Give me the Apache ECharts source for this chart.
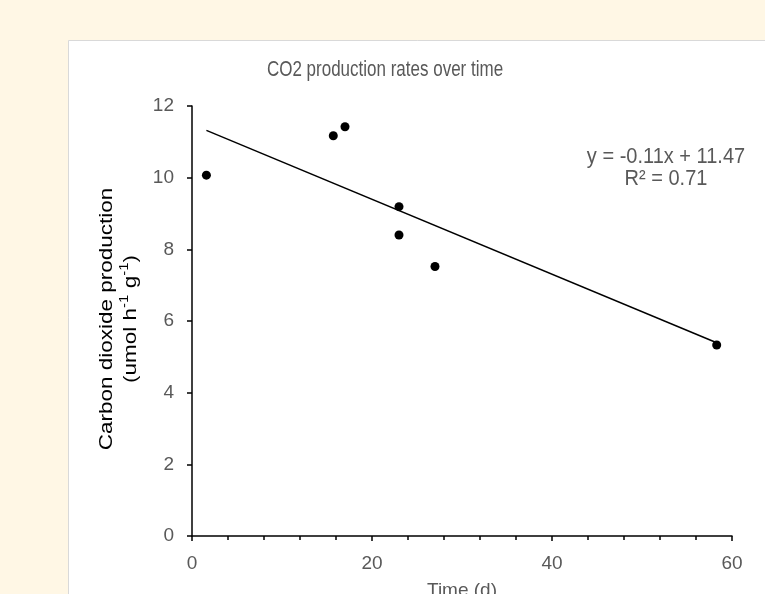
<!DOCTYPE html>
<html>
<head>
<meta charset="utf-8">
<script src="https://cdn.jsdelivr.net/npm/echarts@6/dist/echarts.min.js"></script>
<style>
  html, body { margin: 0; padding: 0; background: #FFF7E5; }
  #chart { width: 765px; height: 594px; }
</style>
</head>
<body>
<div id="chart"></div>
<script>
// Data
const timeDays = [1.6, 15.7, 17.0, 23.0, 23.0, 27.0, 58.3];
const co2Rate  = [10.07, 11.17, 11.42, 9.19, 8.40, 7.52, 5.33];
const xTicks = [0, 20, 40, 60];
const yTicks = [0, 2, 4, 6, 8, 10, 12];
const titleText = 'CO2 production rates over time';
const equationText = 'y = -0.11x + 11.47';
const r2Text = 'R² = 0.71';

// Least-squares trend line derived from the data
const n = timeDays.length;
const mx = timeDays.reduce((a, b) => a + b, 0) / n;
const my = co2Rate.reduce((a, b) => a + b, 0) / n;
let sxy = 0, sxx = 0;
for (let i = 0; i < n; i++) { sxy += (timeDays[i] - mx) * (co2Rate[i] - my); sxx += (timeDays[i] - mx) ** 2; }
const slope = sxy / sxx, intercept = my - slope * mx;
const xMin = Math.min(...timeDays), xMax = Math.max(...timeDays);
const trend = [[xMin, intercept + slope * xMin], [xMax, intercept + slope * xMax]];

const FONT = '"Liberation Sans", Arial, sans-serif';
const GREY = '#595959';

const chart = echarts.init(document.getElementById('chart'), null, { renderer: 'canvas' });
chart.setOption({
  backgroundColor: '#FFF7E5',
  animation: false,
  graphic: [
    { type: 'rect', z: -10, shape: { x: 68.5, y: 40.5, width: 760, height: 600 },
      style: { fill: '#FFFFFF', stroke: '#D9D9D9', lineWidth: 1 } },
    { type: 'text', z: 10, x: 385, y: 70, scaleY: 1.3,
      style: { text: titleText, font: '17px ' + FONT, fill: GREY, align: 'center', verticalAlign: 'middle' } },
    { type: 'text', z: 10, x: 666, y: 157, scaleY: 1.1,
      style: { text: equationText, font: '20px ' + FONT, fill: GREY, align: 'center', verticalAlign: 'middle' } },
    { type: 'text', z: 10, x: 666, y: 179, scaleY: 1.1,
      style: { text: r2Text, font: '20px ' + FONT, fill: GREY, align: 'center', verticalAlign: 'middle' } },
    { type: 'text', z: 10, x: 119, y: 319, rotation: Math.PI / 2, scaleX: 1.25,
      style: {
        text: '{a|Carbon dioxide production}\n{a|(umol h}{s|-1}{a| g}{s|-1}{a|)}',
        align: 'center', verticalAlign: 'middle',
        rich: {
          a: { fontFamily: FONT, fontSize: 18, color: GREY, lineHeight: 24 },
          s: { fontFamily: FONT, fontSize: 12, color: GREY, lineHeight: 24, verticalAlign: 'top', padding: [0, 0, 8, 0] }
        }
      } }
  ],
  grid: { left: 192, top: 106, right: 33, bottom: 58, containLabel: false, outerBoundsMode: 'none' },
  xAxis: {
    type: 'value', min: xTicks[0], max: xTicks[xTicks.length - 1], interval: 20,
    axisLine: { show: true, onZero: false, lineStyle: { color: '#000', width: 1.5 } },
    axisTick: { show: true, length: 5, lineStyle: { color: '#000', width: 1.5 } },
    minorTick: { show: true, splitNumber: 5, length: 4, lineStyle: { color: '#000', width: 1.5 } },
    splitLine: { show: false },
    axisLabel: { color: GREY, fontFamily: FONT, fontSize: 19, margin: 18 },
    name: 'Time (d)', nameLocation: 'middle', nameGap: 45,
    nameTextStyle: { color: GREY, fontFamily: FONT, fontSize: 19 }
  },
  yAxis: {
    type: 'value', min: yTicks[0], max: yTicks[yTicks.length - 1], interval: 2,
    axisLine: { show: true, onZero: false, lineStyle: { color: '#000', width: 1.5 } },
    axisTick: { show: true, length: 5, lineStyle: { color: '#000', width: 1.5 } },
    splitLine: { show: false },
    axisLabel: { color: GREY, fontFamily: FONT, fontSize: 19, margin: 18 }
  },
  series: [
    { type: 'line', data: trend, showSymbol: false, symbol: 'none',
      lineStyle: { color: '#000', width: 1.5 }, z: 3, silent: true },
    { type: 'scatter', data: timeDays.map((x, i) => [x, co2Rate[i]]),
      symbol: 'circle', symbolSize: 9, itemStyle: { color: '#000', opacity: 1 }, z: 4 }
  ]
});
</script>
</body>
</html>
